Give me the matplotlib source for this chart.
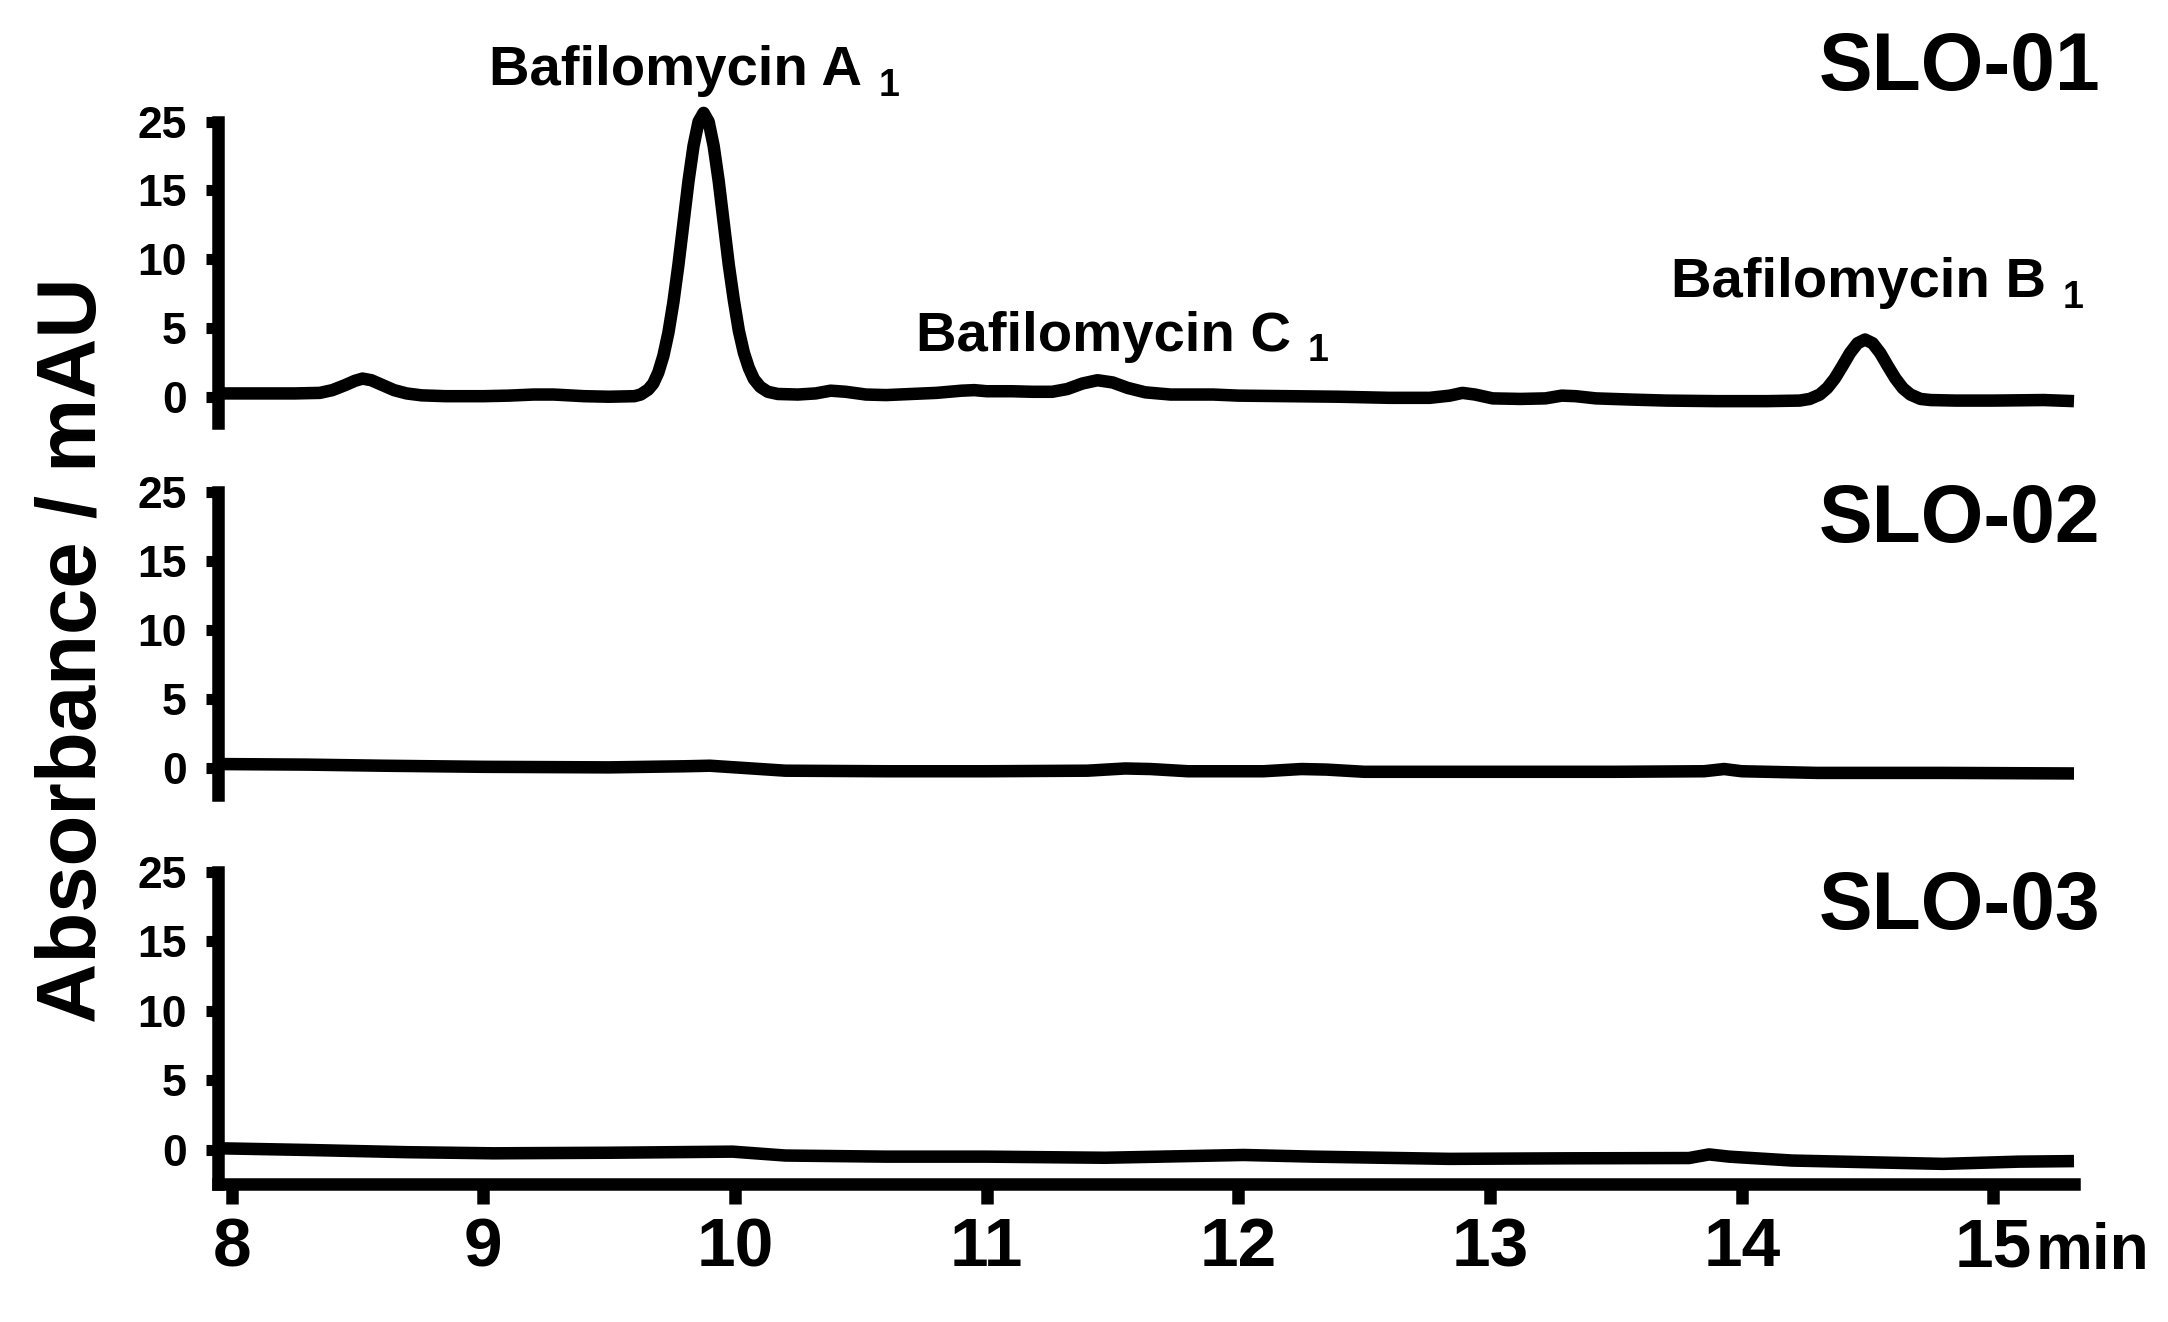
import matplotlib
matplotlib.use("Agg")
import matplotlib.pyplot as plt

# --- data (time in min, absorbance in axis units;
# the y ticks sit evenly at 0..20 but the top one is printed as "25")
time_01 = [7.95, 8.10, 8.25, 8.35, 8.40, 8.45, 8.49, 8.52, 8.555, 8.595, 8.645, 8.695,
           8.755, 8.85, 9.00, 9.10, 9.20, 9.28, 9.40, 9.50, 9.60, 9.625, 9.655, 9.675,
           9.695, 9.715, 9.735, 9.755, 9.775, 9.795, 9.815, 9.835, 9.855, 9.875,
           9.895, 9.915, 9.935, 9.955, 9.975, 9.995, 10.015, 10.035, 10.055, 10.075,
           10.10, 10.13, 10.17, 10.25, 10.32, 10.38, 10.44, 10.52, 10.60, 10.70,
           10.80, 10.90, 10.95, 11.00, 11.10, 11.18, 11.26, 11.32, 11.38, 11.44,
           11.50, 11.56, 11.63, 11.73, 11.90, 12.00, 12.20, 12.40, 12.60, 12.76,
           12.84, 12.89, 12.94, 13.01, 13.12, 13.22, 13.285, 13.34, 13.42, 13.55,
           13.70, 13.90, 14.10, 14.23, 14.27, 14.31, 14.34, 14.37, 14.40, 14.43,
           14.46, 14.49, 14.52, 14.55, 14.58, 14.61, 14.64, 14.67, 14.71, 14.75,
           14.85, 15.00, 15.20, 15.32]
abs_01 = [0.24, 0.24, 0.24, 0.28, 0.48, 0.84, 1.16, 1.32, 1.20, 0.88, 0.48, 0.24,
          0.10, 0.04, 0.04, 0.08, 0.16, 0.16, 0.04, 0.00, 0.04, 0.16, 0.52, 0.96,
          1.76, 2.96, 4.64, 6.88, 9.60, 12.64, 15.68, 18.24, 20.00, 20.64,
          20.00, 18.24, 15.68, 12.64, 9.60, 7.04, 4.80, 3.20, 2.08, 1.28,
          0.72, 0.36, 0.20, 0.16, 0.24, 0.44, 0.36, 0.16, 0.12, 0.20,
          0.28, 0.44, 0.48, 0.40, 0.40, 0.36, 0.36, 0.56, 0.96, 1.20,
          1.04, 0.64, 0.32, 0.16, 0.16, 0.08, 0.04, 0.00, -0.08, -0.08,
          0.08, 0.28, 0.16, -0.12, -0.16, -0.12, 0.08, 0.04, -0.12, -0.20,
          -0.28, -0.32, -0.32, -0.28, -0.16, 0.16, 0.64, 1.34, 2.24, 3.18,
          3.89, 4.16, 3.89, 3.18, 2.24, 1.34, 0.62, 0.16, -0.16, -0.24,
          -0.28, -0.28, -0.24, -0.32]

time_02 = [7.95, 8.30, 8.60, 9.00, 9.50, 9.80, 9.90, 10.00, 10.20, 10.60, 11.00,
           11.40, 11.55, 11.65, 11.80, 12.10, 12.25, 12.35, 12.50, 13.00, 13.50,
           13.85, 13.93, 14.00, 14.30, 14.80, 15.32]
abs_02 = [0.28, 0.24, 0.16, 0.08, 0.04, 0.12, 0.16, 0.04, -0.20, -0.24, -0.24,
          -0.20, -0.04, -0.08, -0.24, -0.24, -0.08, -0.12, -0.28, -0.28, -0.28,
          -0.24, -0.08, -0.24, -0.36, -0.36, -0.40]

time_03 = [7.95, 8.30, 8.70, 9.04, 9.50, 9.99, 10.20, 10.60, 11.00, 11.47, 11.80,
           12.02, 12.30, 12.84, 13.30, 13.79, 13.87, 13.95, 14.20, 14.50, 14.80,
           15.10, 15.32]
abs_03 = [0.12, 0.00, -0.16, -0.24, -0.20, -0.12, -0.40, -0.48, -0.48, -0.56, -0.44,
          -0.36, -0.48, -0.64, -0.60, -0.58, -0.32, -0.48, -0.76, -0.88, -1.00,
          -0.84, -0.80]

samples = ["SLO-01", "SLO-02", "SLO-03"]
peak_names = ["Bafilomycin A", "Bafilomycin C", "Bafilomycin B"]
peak_subs = ["1", "1", "1"]
peak_label_pos = [(9.024, 22.67), (10.719, 3.35), (13.72, 7.25)]
y_ticks = [0, 5, 10, 15, 20]
y_ticklabels = ["0", "5", "10", "15", "25"]
x_ticks = [8, 9, 10, 11, 12, 13, 14, 15]

# --- style
plt.rcParams["font.family"] = ["Liberation Sans", "DejaVu Sans"]
plt.rcParams["font.weight"] = "bold"
LW = 9

W, H = 2168, 1322
fig = plt.figure(figsize=(W / 100, H / 100), dpi=100)

# panel boxes in pixels: (top of axis, bottom of axis)
boxes = [(121.7, 423.0), (491.7, 795.0), (871.7, 1183.5)]
ymins = [-1.91, -1.96, -2.41]
x_left, x_right = 218, 2074
xlim = (7.9456, 15.32)

traces = [(time_01, abs_01), (time_02, abs_02), (time_03, abs_03)]
axes = []
for i, ((top, bot), ymin, (t, a)) in enumerate(zip(boxes, ymins, traces)):
    ax = fig.add_axes([x_left / W, 1 - bot / H, (x_right - x_left) / W, (bot - top) / H])
    ax.plot(t, a, color="black", lw=LW, solid_capstyle="butt", solid_joinstyle="round",
            clip_on=False)
    ax.set_xlim(*xlim)
    ax.set_ylim(ymin, 20)
    for s in ["top", "right"]:
        ax.spines[s].set_visible(False)
    ax.spines["left"].set_linewidth(LW)
    ax.spines["bottom"].set_linewidth(LW)
    ax.set_yticks(y_ticks)
    ax.set_yticklabels(y_ticklabels)
    ax.tick_params(axis="y", length=8.5, width=8, pad=14, labelsize=32)
    if i < 2:
        ax.spines["bottom"].set_visible(False)
        ax.set_xticks([])
    else:
        ax.set_xticks(x_ticks)
        ax.tick_params(axis="x", length=14.5, width=9, pad=9, labelsize=50)
    for lab in ax.get_yticklabels() + ax.get_xticklabels():
        lab.set_fontweight("bold")
    ax.patch.set_visible(False)
    axes.append(ax)

# "min" after the last x tick label
axes[2].annotate("min", xy=(15, 0), xycoords=("data", "axes fraction"),
                 xytext=(30, -61.5), textcoords="offset points",
                 ha="left", va="baseline", fontsize=46, fontweight="bold")

# peak labels with subscripts
for name, sub, (px, py) in zip(peak_names, peak_subs, peak_label_pos):
    txt = axes[0].text(px, py, name, fontsize=40.5, fontweight="bold",
                       ha="left", va="baseline", clip_on=False)
    axes[0].annotate(sub, xy=(1, 0), xycoords=txt, xytext=(12, 1),
                     textcoords="offset points", fontsize=27, fontweight="bold",
                     ha="left", va="baseline")

# sample labels
for name, base in zip(samples, [90, 542, 929]):
    fig.text(2100 / W, 1 - base / H, name, fontsize=58, fontweight="bold",
             ha="right", va="baseline")

fig.text(74 / W, 1 - 650 / H, "Absorbance / mAU", fontsize=60, fontweight="bold",
         rotation=90, ha="center", va="center")

fig.savefig("out.png", dpi=100)
